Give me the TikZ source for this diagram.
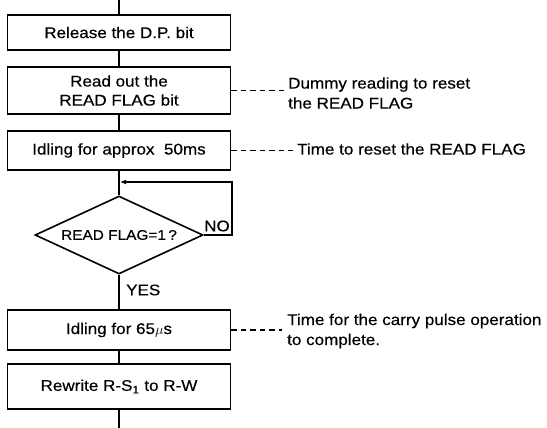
\documentclass[tikz,border=0pt]{standalone}
\usepackage{fontspec}
\setmainfont{Liberation Sans}[FakeStretch=1.1,FakeBold=0.4]
\usetikzlibrary{shapes.geometric,arrows.meta}

\begin{document}
\begin{tikzpicture}[x=1pt,y=-1pt,
  every node/.style={font=\fontsize{15.5}{20}\selectfont},
  procbox/.style={draw,line width=1.6pt,minimum width=223pt,inner sep=0pt,align=center},
  decision/.style={draw,diamond,line width=1.6pt,minimum width=168pt,minimum height=78pt,
                   inner sep=0pt,shape aspect=2.15,font=\fontsize{14}{17}\selectfont},
  flow/.style={line width=1.8pt},
  note/.style={line width=1.4pt,dash pattern=on 5.5pt off 4pt},
  lbl/.style={inner sep=0pt,anchor=west,align=left}]
\useasboundingbox (0,0) rectangle (547,428);

% process steps
\node[procbox,minimum height=35pt] (b1) at (119,32.5) {Release the D.P. bit};
\node[procbox,minimum height=47pt,font=\fontsize{15.5}{19}\selectfont] (b2) at (119,90.5)
  {Read out the\\READ FLAG bit};
\node[procbox,minimum height=39pt] (b3) at (119,150.5) {Idling for approx\ \ 50ms};
\node[decision] (d) at (119,235) {READ FLAG=1\,?};
\node[procbox,minimum height=40pt] (b4) at (119,330) {Idling for 65$\mu$s};
\node[procbox,minimum height=45pt] (b5) at (119,386.5) {Rewrite R-S\textsubscript{1} to R-W};

% branch labels
\node[lbl] (no) at (204,226) {NO};
\node[lbl] (yes) at (126,290) {YES};

% remarks
\node[lbl] (n2) at (288,93) {Dummy reading to reset\\the READ FLAG};
\node[lbl] (n3) at (297,149) {Time to reset the READ FLAG};
\node[lbl] (n4) at (287,331) {Time for the carry pulse operation\\to complete.};

% helper points
\coordinate (top) at (119,0);
\coordinate (bot) at (119,428);
\coordinate (join) at (120,182);
\coordinate (lr) at (232,235);
\coordinate (ur) at (232,182);

% main flow
\draw[flow] (top) -- (b1.north);
\draw[flow] (b1.south) -- (b2.north);
\draw[flow] (b2.south) -- (b3.north);
\draw[flow] (b3.south) -- (d.north);
\draw[flow] (d.south) -- (b4.north);
\draw[flow] (b4.south) -- (b5.north);
\draw[flow] (b5.south) -- (bot);

% retry loop
\draw[flow,-{Latex[length=6pt,width=5pt]}] (d.east) -- (lr) -- (ur) -- (join);

% remark leaders
\draw[note] (b2.east) -- ([xshift=-1pt]b2.east -| n2.west);
\draw[note] (b3.east) -- ([xshift=-4pt]b3.east -| n3.west);
\draw[note] (b4.east) -- ([xshift=-5pt]b4.east -| n4.west);
\end{tikzpicture}
\end{document}
